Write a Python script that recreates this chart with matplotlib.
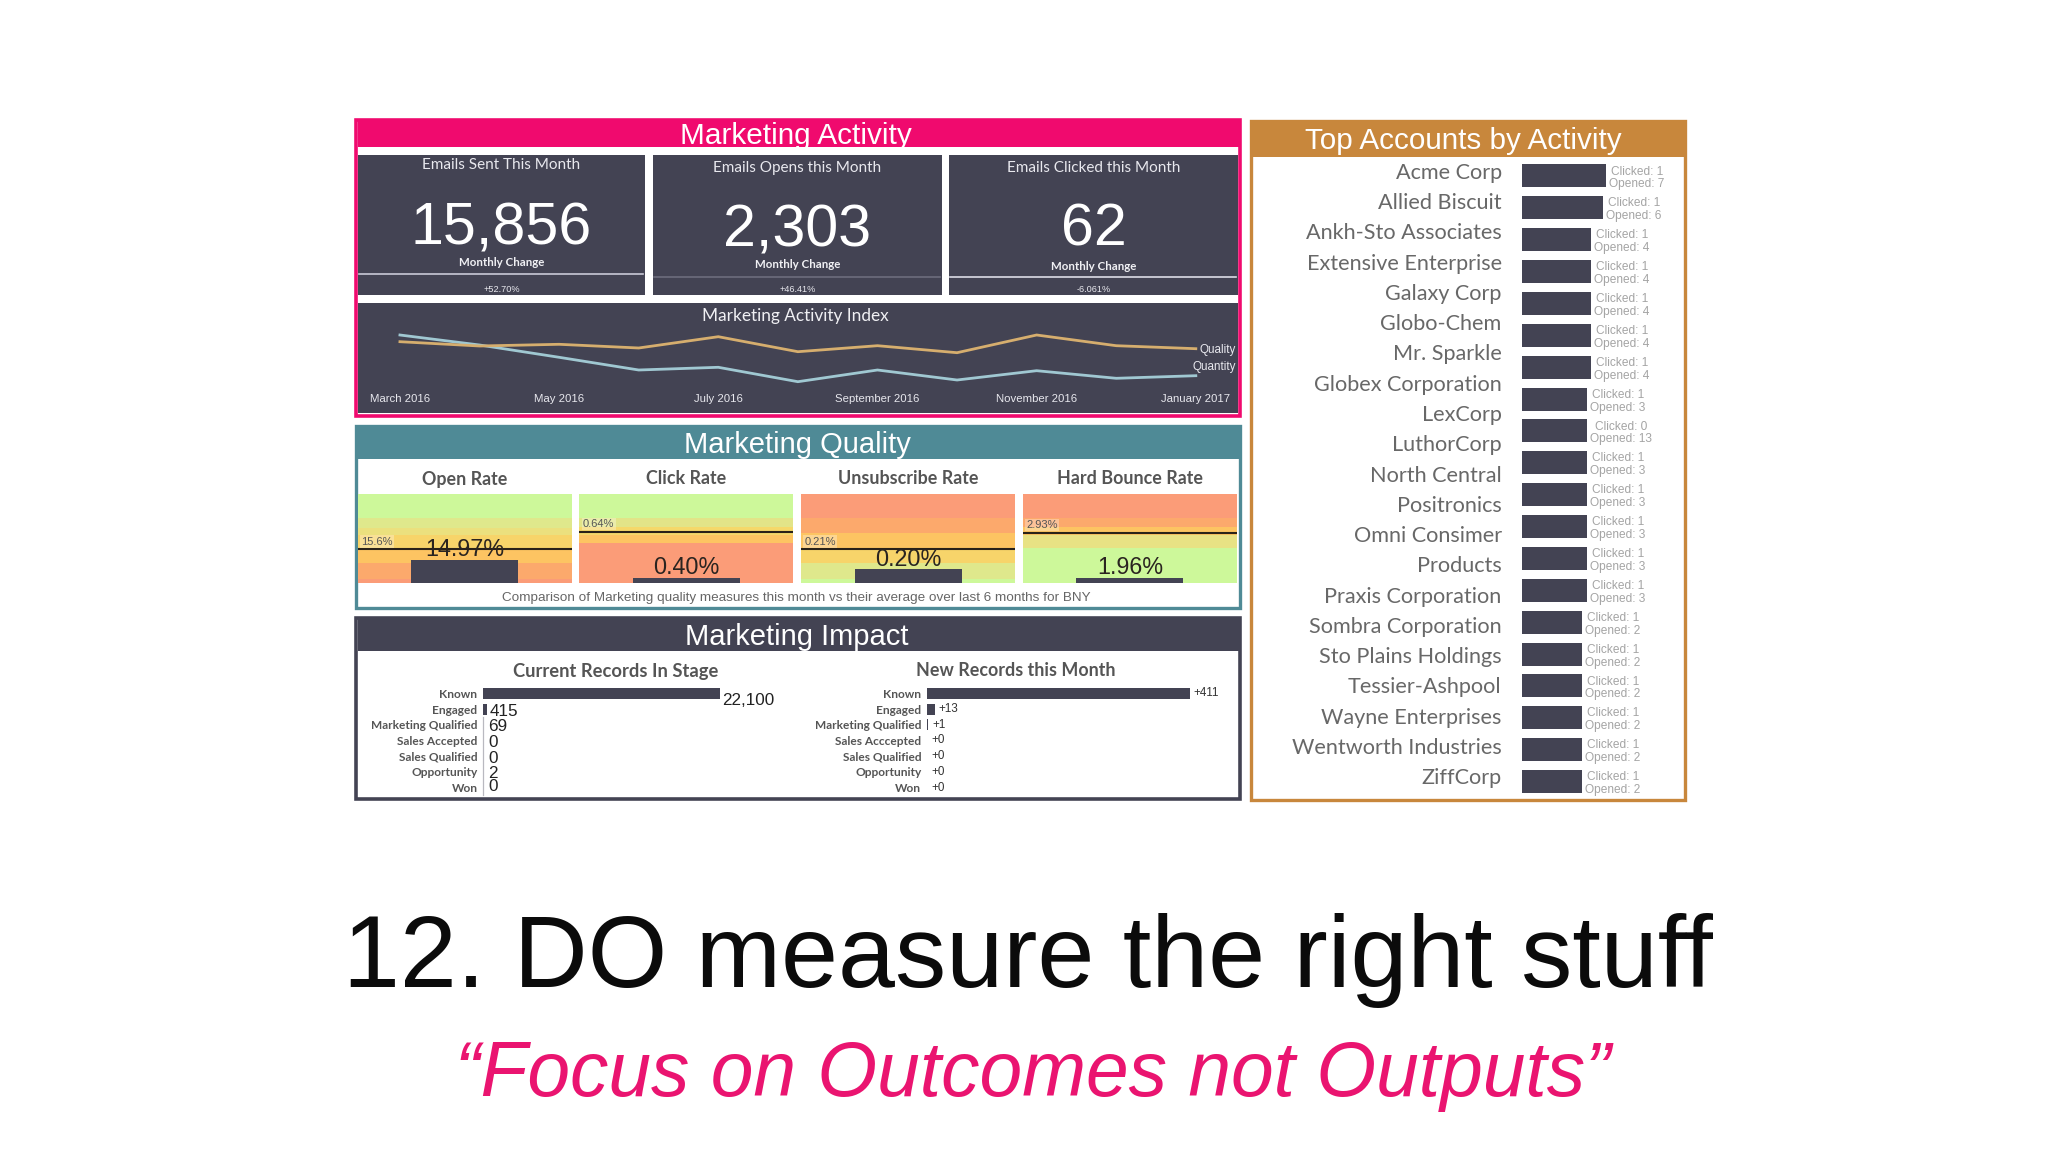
import matplotlib
matplotlib.use("Agg")
import matplotlib.pyplot as plt
from matplotlib.patches import Rectangle

W, H = 2048, 1152
SANS = "Liberation Sans"
HUM = "Lato"
DARK = "#434353"
PINK = "#f00a6e"
TEAL = "#4f8a96"
TAN = "#c8873c"

# ---------- data ----------
kpi_titles = ["Emails Sent This Month", "Emails Opens this Month", "Emails Clicked this Month"]
kpi_values = ["15,856", "2,303", "62"]
kpi_changes = ["+52.70%", "+46.41%", "-6.061%"]

months = ["March 2016", "April 2016", "May 2016", "June 2016", "July 2016", "August 2016",
          "September 2016", "October 2016", "November 2016", "December 2016", "January 2017"]
quantity_index = [65, 55, 42.7, 30, 32.7, 18.3, 30, 20, 29.3, 21.7, 24.3]
quality_index = [58.3, 54, 55.7, 52, 63.3, 48.3, 54.3, 47.3, 65, 54.3, 51.3]

quality_names = ["Open Rate", "Click Rate", "Unsubscribe Rate", "Hard Bounce Rate"]
quality_values = ["14.97%", "0.40%", "0.20%", "1.96%"]
quality_avgs = ["15.6%", "0.64%", "0.21%", "2.93%"]
quality_bar_level = [0.26, 0.056, 0.157, 0.056]
quality_avg_level = [0.384, 0.578, 0.384, 0.565]

stages_current = ["Known", "Engaged", "Marketing Qualified", "Sales Accepted", "Sales Qualified", "Opportunity", "Won"]
records_current = [22100, 415, 69, 0, 0, 2, 0]
stages_new = ["Known", "Engaged", "Marketing Qualified", "Sales Acccepted", "Sales Qualified", "Opportunity", "Won"]
records_new = [411, 13, 1, 0, 0, 0, 0]

account_lines = ["Acme Corp", "Allied Biscuit", "Ankh-Sto Associates", "Extensive Enterprise", "Galaxy Corp",
                 "Globo-Chem", "Mr. Sparkle", "Globex Corporation", "LexCorp", "LuthorCorp", "North Central",
                 "Positronics", "Omni Consimer", "Products", "Praxis Corporation", "Sombra Corporation",
                 "Sto Plains Holdings", "Tessier-Ashpool", "Wayne Enterprises", "Wentworth Industries", "ZiffCorp"]
clicked = [1, 1, 1, 1, 1, 1, 1, 1, 0, 1, 1, 1, 1, 1, 1, 1, 1, 1, 1, 1]
opened = [7, 6, 4, 4, 4, 4, 4, 3, 13, 3, 3, 3, 3, 3, 2, 2, 2, 2, 2, 2]
activity_level = [84, 81, 69, 69, 69, 69, 69, 65, 65, 65, 65, 65, 65, 65, 60, 60, 60, 60, 60, 60]

# ---------- bullet background bands (top edge fraction, colour) ----------
GREEN, SALMON = "#cdf89a", "#fb9c78"
band_sets = [
    [(1.00, GREEN), (.73, "#dfe88c"), (.62, "#ebe07e"), (.54, "#f7d46a"), (.39, "#fdc462"), (.22, "#fca96c"), (.05, SALMON)],
    [(1.00, GREEN), (.73, "#e2e488"), (.63, "#f5d86a"), (.54, "#fdc462"), (.45, SALMON)],
    [(1.00, SALMON), (.73, "#fca96c"), (.56, "#fdc462"), (.39, "#f7d46a"), (.22, "#dfe88c"), (.05, GREEN)],
    [(1.00, SALMON), (.73, "#fca96c"), (.63, "#fdc462"), (.54, "#e8e284"), (.39, GREEN)],
]

fig = plt.figure(figsize=(W / 100, H / 100), dpi=100, facecolor="white")


def axpx(x0, y0, x1, y1, **kw):
    return fig.add_axes([x0 / W, 1 - y1 / H, (x1 - x0) / W, (y1 - y0) / H], **kw)


def canvas(z):
    c = axpx(0, 0, W, H)
    c.set_xlim(0, W)
    c.set_ylim(H, 0)
    c.axis("off")
    c.patch.set_alpha(0)
    c.set_zorder(z)
    return c


bg = canvas(0)
fg = canvas(10)


def box(x0, y0, x1, y1, fc="none", ec="none", lw=0):
    bg.add_patch(Rectangle((x0, y0), x1 - x0, y1 - y0, facecolor=fc, edgecolor=ec, linewidth=lw))


def txt(x, y, s, size, color="white", family=SANS, ha="center", va="center", **kw):
    return fg.text(x, y, s, fontsize=size, color=color, family=family, ha=ha, va=va, **kw)


# ---------- frames ----------
box(355.5, 119.5, 1239.5, 415.5, ec=PINK, lw=2.6)
box(355.5, 426, 1239.5, 608, ec=TEAL, lw=2.4)
box(355.5, 617.5, 1239.5, 799, ec=DARK, lw=2.6)
box(1251, 121, 1685, 800, ec=TAN, lw=2.4)

box(358, 121, 1239, 147, fc=PINK)
box(358, 427, 1239, 459, fc=TEAL)
box(358, 619, 1239, 651, fc=DARK)
box(1252, 122, 1684, 157, fc=TAN)

txt(796, 136, "Marketing Activity", 21.4)
txt(797, 445, "Marketing Quality", 21)
txt(797, 637, "Marketing Impact", 21)
txt(1463, 141, "Top Accounts by Activity", 21.3)

# ---------- KPI panels ----------
kpi_x = [(358, 645), (653, 941.5), (949, 1238)]
kpi_title_y = [165, 168, 168]
kpi_base_y = [245, 246, 246]
kpi_sub_y = [262, 264, 266]
kpi_line_y = [274, 276.5, 277]
kpi_line_c = ["#c9c9d6", "#6d6d7c", "#dcdce6"]
kpi_change_y = [289, 290, 290]
for i, (x0, x1) in enumerate(kpi_x):
    box(x0, 155, x1, 295, fc=DARK)
    cx = (x0 + x1) / 2
    txt(cx, kpi_title_y[i], kpi_titles[i], 11, color="#e8e8ee", family=HUM)
    txt(cx, kpi_base_y[i], kpi_values[i], 42.6, va="baseline")
    txt(cx, kpi_sub_y[i], "Monthly Change", 8.3, color="#f0f0f4", family=HUM, fontweight="bold")
    bg.plot([x0 + 1, x1 - 2], [kpi_line_y[i]] * 2, color=kpi_line_c[i], lw=1.2)
    txt(cx, kpi_change_y[i], kpi_changes[i], 6.6, color="#e8e8ee")

# ---------- activity index line ----------
ax = axpx(358, 303, 1238, 413)
ax.set_zorder(1)
ax.set_facecolor(DARK)
ax.set_xlim(-0.527, 10.53)
ax.set_ylim(-13, 97)
xs = list(range(len(months)))
ax.plot(xs, quantity_index, color="#a0c8d2", lw=2.0, solid_joinstyle="miter")
ax.plot(xs, quality_index, color="#d6ae6e", lw=2.0, solid_joinstyle="miter")
ax.set_xticks(xs[::2])
ax.set_xticklabels(months[::2], fontsize=8.2, color="#e8e8ee", family=SANS)
ax.tick_params(axis="x", length=0, pad=-14)
ax.set_yticks([])
for s in ax.spines.values():
    s.set_visible(False)
txt(795, 316, "Marketing Activity Index", 12.4, color="#f0f0f4", family=HUM)
txt(1236, 350, "Quality", 8.4, color="#e8e8ee", ha="right")
txt(1236, 367, "Quantity", 8.4, color="#e8e8ee", ha="right")

# ---------- quality bullets ----------
qual_x = [(357.6, 571.8), (579.4, 793), (801, 1015), (1023, 1236.7)]
qual_lab_y = [550, 568, 559, 568]
qual_avg_y = [541.7, 524, 541.7, 525]
for i, (x0, x1) in enumerate(qual_x):
    a = axpx(x0, 494, x1, 583)
    a.set_zorder(1)
    a.set_xlim(0, 1)
    a.set_ylim(0, 1)
    bands = band_sets[i]
    for j, (top, col) in enumerate(bands):
        bot = bands[j + 1][0] if j + 1 < len(bands) else 0
        a.bar(0.5, top - bot, width=1, bottom=bot, color=col, linewidth=0)
    a.bar(0.5, quality_bar_level[i], width=0.5, color=DARK, linewidth=0, zorder=3)
    a.axhline(quality_avg_level[i], color="#2a2218", lw=1.5, zorder=4)
    a.axis("off")
    a.text(0.5, (583 - qual_lab_y[i]) / 89, quality_values[i], transform=a.transAxes, fontsize=16.8,
           family=SANS, color="#2a2420", ha="center", va="center", zorder=5)
    a.text(0.017, (583 - qual_avg_y[i]) / 89, quality_avgs[i], transform=a.transAxes, fontsize=8,
           family=SANS, color="#555555", ha="left", va="center", zorder=5,
           bbox=dict(fc="white", alpha=0.3, ec="none", pad=1))
    txt((x0 + x1) / 2, 479, quality_names[i], 12.9, color="#555555", family=HUM, fontweight="bold")
txt(796.6, 598, "Comparison of Marketing quality measures this month vs their average over last 6 months for BNY",
    9.7, color="#666666")

# ---------- impact bars ----------
txt(616, 671, "Current Records In Stage", 13.2, color="#555555", family=HUM, fontweight="bold")
txt(1016, 671, "New Records this Month", 12.9, color="#555555", family=HUM, fontweight="bold")


def stage_axes(x0, x1, names, vals, vmax):
    a = axpx(x0, 685.5, x1, 795.4)
    a.set_zorder(1)
    a.patch.set_alpha(0)
    a.set_ylim(6.5, -0.5)
    a.set_xlim(0, vmax)
    a.barh(range(len(vals)), vals, height=0.7, color=DARK, linewidth=0)
    a.set_yticks(range(len(vals)))
    a.set_yticklabels(names, fontsize=8.6, color="#555555", family=HUM, fontweight="bold")
    a.set_xticks([])
    a.tick_params(axis="y", length=0, pad=4)
    for k in ("top", "right", "bottom", "left"):
        a.spines[k].set_visible(False)
    return a


a1 = stage_axes(483, 720.3, stages_current, records_current, max(records_current))
a1.spines["left"].set_visible(True)
a1.spines["left"].set_bounds(1.5, 6.5)
a1.spines["left"].set_color("#b9b9c0")
a1.spines["left"].set_linewidth(0.9)
cur_dy = [6.7, 2, 2, 2, 2, 2, -1]
cur_dx = [1, 1.8, 3.4, 3.9, 3.9, 3.9, 3.9]
for i, v in enumerate(records_current):
    a1.annotate(f"{v:,}", (v, i), xytext=(cur_dx[i], -cur_dy[i] * .72), textcoords="offset points",
                fontsize=12.3, family=SANS, color="#222222", ha="left", va="center", annotation_clip=False)

a2 = stage_axes(926.9, 1190, stages_new, records_new, max(records_new))
new_dx = [2.5, 2, 3.5, 3.5, 3.5, 3.5, 3.5]
for i, v in enumerate(records_new):
    a2.annotate(f"+{v}", (v, i), xytext=(new_dx[i], 0), textcoords="offset points",
                fontsize=8.4, family=SANS, color="#333333", ha="left", va="center", annotation_clip=False)

# ---------- accounts ----------
for i, name in enumerate(account_lines):
    txt(1501.7, 172.7 + i * 30.28, name, 15.6, color="#686868", family=HUM, ha="right")

a3 = axpx(1521.7, 160, 1621.7, 797.5)
a3.set_zorder(1)
a3.patch.set_alpha(0)
a3.set_xlim(0, 100)
a3.set_ylim(19.5, -0.5)
a3.barh(range(20), activity_level, height=0.72, color=DARK, linewidth=0)
a3.axis("off")
for i, (c, o, w) in enumerate(zip(clicked, opened, activity_level)):
    a3.annotate(f"Clicked: {c}\nOpened: {o}", (w, i), xytext=(2.5, -1.5), textcoords="offset points",
                fontsize=8.6, family=SANS, color="#a4a4a4", ha="left", va="center", multialignment="center",
                linespacing=1.1, annotation_clip=False)

# ---------- slide caption ----------
txt(1027.5, 986.7, "12. DO measure the right stuff", 73.7, color="#0b0b0b", va="baseline")
txt(1033, 1096, "\u201cFocus on Outcomes not Outputs\u201d", 55.3, color="#ea1470", style="italic", va="baseline")

fig.savefig("out.png", dpi=100)
